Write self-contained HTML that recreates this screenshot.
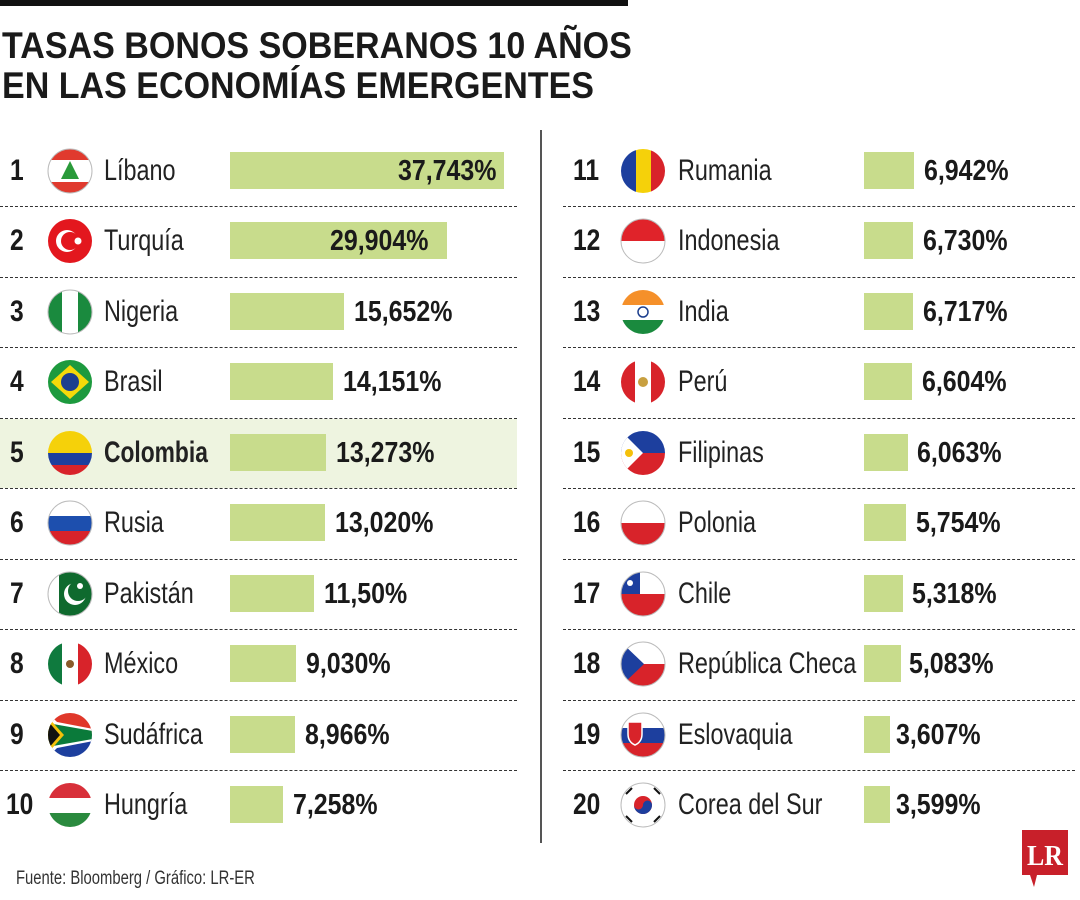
<!DOCTYPE html>
<html><head><meta charset="utf-8"><style>
body{margin:0;background:#fff;}
#c{position:relative;width:1080px;height:900px;overflow:hidden;font-family:"Liberation Sans",sans-serif;color:#1a1a1a;}
.t{position:absolute;white-space:nowrap;line-height:1;transform-origin:left center;}
.r{font-weight:bold;font-size:30px;transform:scaleX(.82);}
.n{font-size:30px;transform:scaleX(.78);color:#222;}
.v{font-weight:bold;font-size:29px;transform:scaleX(.86);}
.b{position:absolute;height:37px;background:#c8dc8c;}
.d{position:absolute;height:0;border-top:1.6px dashed #333;}
svg.f{position:absolute;width:46px;height:46px;}
</style></head><body><div id="c">
<div style="position:absolute;left:0;top:0;width:628px;height:6px;background:#111"></div>
<div class="t" style="left:2px;top:27px;font-size:37px;font-weight:bold;transform:scaleX(.92)">TASAS BONOS SOBERANOS 10 AÑOS</div>
<div class="t" style="left:2px;top:67px;font-size:37px;font-weight:bold;transform:scaleX(.92)">EN LAS ECONOMÍAS EMERGENTES</div>
<div style="position:absolute;left:540px;top:130px;width:1.5px;height:713px;background:#555"></div>
<div style="position:absolute;left:0;top:419px;width:517px;height:69px;background:#eef4e0"></div>

<svg width="0" height="0" style="position:absolute"><defs><clipPath id="cp"><circle cx="23" cy="23" r="22"/></clipPath></defs></svg>

<div class="d" style="left:0;width:517px;top:206px"></div><div class="d" style="left:0;width:517px;top:277px"></div><div class="d" style="left:0;width:517px;top:347px"></div><div class="d" style="left:0;width:517px;top:418px"></div><div class="d" style="left:0;width:517px;top:488px"></div><div class="d" style="left:0;width:517px;top:559px"></div><div class="d" style="left:0;width:517px;top:629px"></div><div class="d" style="left:0;width:517px;top:700px"></div><div class="d" style="left:0;width:517px;top:770px"></div>
<div class="d" style="left:563px;width:512px;top:206px"></div><div class="d" style="left:563px;width:512px;top:277px"></div><div class="d" style="left:563px;width:512px;top:347px"></div><div class="d" style="left:563px;width:512px;top:418px"></div><div class="d" style="left:563px;width:512px;top:488px"></div><div class="d" style="left:563px;width:512px;top:559px"></div><div class="d" style="left:563px;width:512px;top:629px"></div><div class="d" style="left:563px;width:512px;top:700px"></div><div class="d" style="left:563px;width:512px;top:770px"></div>

<div class="t r" style="left:10px;top:156px">1</div>
<svg class="f" style="left:47px;top:148px"><g clip-path="url(#cp)"><rect width="46" height="46" fill="#fff"/><rect width="46" height="12" fill="#e03a2e"/><rect y="34" width="46" height="12" fill="#e03a2e"/><polygon points="23,13 32,31 14,31" fill="#2a9a3a"/></g><circle cx="23" cy="23" r="22" fill="none" stroke="#bbb"/></svg>
<div class="t n" style="left:104px;top:156px">Líbano</div>
<div class="b" style="left:230px;top:152px;width:274px"></div>
<div class="t v" style="left:398px;top:157px">37,743%</div>

<div class="t r" style="left:10px;top:226px">2</div>
<svg class="f" style="left:47px;top:218px"><g clip-path="url(#cp)"><rect width="46" height="46" fill="#e3171e"/><circle cx="20" cy="23" r="11" fill="#fff"/><circle cx="23" cy="23" r="9" fill="#e3171e"/><circle cx="31" cy="23" r="3.5" fill="#fff"/></g></svg>
<div class="t n" style="left:104px;top:226px">Turquía</div>
<div class="b" style="left:230px;top:222px;width:217px"></div>
<div class="t v" style="left:330px;top:227px">29,904%</div>

<div class="t r" style="left:10px;top:297px">3</div>
<svg class="f" style="left:47px;top:289px"><g clip-path="url(#cp)"><rect width="46" height="46" fill="#fff"/><rect width="15" height="46" fill="#1a8a3e"/><rect x="31" width="15" height="46" fill="#1a8a3e"/></g><circle cx="23" cy="23" r="22" fill="none" stroke="#bbb"/></svg>
<div class="t n" style="left:104px;top:297px">Nigeria</div>
<div class="b" style="left:230px;top:293px;width:114px"></div>
<div class="t v" style="left:354px;top:298px">15,652%</div>

<div class="t r" style="left:10px;top:367px">4</div>
<svg class="f" style="left:47px;top:359px"><g clip-path="url(#cp)"><rect width="46" height="46" fill="#1d9a3e"/><polygon points="23,6 42,23 23,40 4,23" fill="#f5d90a"/><circle cx="23" cy="23" r="9" fill="#1d3f8e"/></g></svg>
<div class="t n" style="left:104px;top:367px">Brasil</div>
<div class="b" style="left:230px;top:363px;width:103px"></div>
<div class="t v" style="left:343px;top:368px">14,151%</div>

<div class="t r" style="left:10px;top:438px">5</div>
<svg class="f" style="left:47px;top:430px"><g clip-path="url(#cp)"><rect width="46" height="23" fill="#f5d10a"/><rect y="23" width="46" height="12" fill="#1d3f9e"/><rect y="35" width="46" height="11" fill="#d8232a"/></g></svg>
<div class="t n" style="left:104px;top:438px;font-weight:bold;transform:scaleX(.76)">Colombia</div>
<div class="b" style="left:230px;top:434px;width:96px"></div>
<div class="t v" style="left:336px;top:439px">13,273%</div>

<div class="t r" style="left:10px;top:508px">6</div>
<svg class="f" style="left:47px;top:500px"><g clip-path="url(#cp)"><rect width="46" height="16" fill="#fff"/><rect y="16" width="46" height="15" fill="#1d4fae"/><rect y="31" width="46" height="15" fill="#d8232a"/></g><circle cx="23" cy="23" r="22" fill="none" stroke="#bbb"/></svg>
<div class="t n" style="left:104px;top:508px">Rusia</div>
<div class="b" style="left:230px;top:504px;width:95px"></div>
<div class="t v" style="left:335px;top:509px">13,020%</div>

<div class="t r" style="left:10px;top:579px">7</div>
<svg class="f" style="left:47px;top:571px"><g clip-path="url(#cp)"><rect width="46" height="46" fill="#0f6a2e"/><rect width="12" height="46" fill="#fff"/><circle cx="28" cy="23" r="11" fill="#fff"/><circle cx="31" cy="20" r="10" fill="#0f6a2e"/><circle cx="33" cy="15" r="3" fill="#fff"/></g><circle cx="23" cy="23" r="22" fill="none" stroke="#bbb"/></svg>
<div class="t n" style="left:104px;top:579px">Pakistán</div>
<div class="b" style="left:230px;top:575px;width:84px"></div>
<div class="t v" style="left:324px;top:580px">11,50%</div>

<div class="t r" style="left:10px;top:649px">8</div>
<svg class="f" style="left:47px;top:641px"><g clip-path="url(#cp)"><rect width="46" height="46" fill="#fff"/><rect width="15" height="46" fill="#0f7a3e"/><rect x="31" width="15" height="46" fill="#d8232a"/><circle cx="23" cy="23" r="4" fill="#8a5a2a"/></g></svg>
<div class="t n" style="left:104px;top:649px">México</div>
<div class="b" style="left:230px;top:645px;width:66px"></div>
<div class="t v" style="left:306px;top:650px">9,030%</div>

<div class="t r" style="left:10px;top:720px">9</div>
<svg class="f" style="left:47px;top:712px"><g clip-path="url(#cp)"><rect width="46" height="23" fill="#e0382a"/><rect y="23" width="46" height="23" fill="#1d3f9e"/><polygon points="0,0 23,23 0,46" fill="#fff"/><polygon points="0,8 46,17 46,29 0,38" fill="#fff"/><polygon points="0,11 46,19 46,27 0,35" fill="#0a7a3a"/><polygon points="0,4 17,23 0,42" fill="#f5c00a"/><polygon points="0,8 13,23 0,38" fill="#111"/></g></svg>
<div class="t n" style="left:104px;top:720px">Sudáfrica</div>
<div class="b" style="left:230px;top:716px;width:65px"></div>
<div class="t v" style="left:305px;top:721px">8,966%</div>

<div class="t r" style="left:6px;top:790px">10</div>
<svg class="f" style="left:47px;top:782px"><g clip-path="url(#cp)"><rect width="46" height="16" fill="#d8303a"/><rect y="16" width="46" height="15" fill="#fff"/><rect y="31" width="46" height="15" fill="#2a8a3e"/></g></svg>
<div class="t n" style="left:104px;top:790px">Hungría</div>
<div class="b" style="left:230px;top:786px;width:53px"></div>
<div class="t v" style="left:293px;top:791px">7,258%</div>

<div class="t r" style="left:573px;top:156px">11</div>
<svg class="f" style="left:620px;top:148px"><g clip-path="url(#cp)"><rect width="16" height="46" fill="#1d3f9e"/><rect x="16" width="15" height="46" fill="#f5d10a"/><rect x="31" width="15" height="46" fill="#d8232a"/></g></svg>
<div class="t n" style="left:678px;top:156px">Rumania</div>
<div class="b" style="left:864px;top:152px;width:50px"></div>
<div class="t v" style="left:924px;top:157px">6,942%</div>

<div class="t r" style="left:573px;top:226px">12</div>
<svg class="f" style="left:620px;top:218px"><g clip-path="url(#cp)"><rect width="46" height="46" fill="#fff"/><rect width="46" height="23" fill="#e0232a"/></g><circle cx="23" cy="23" r="22" fill="none" stroke="#bbb"/></svg>
<div class="t n" style="left:678px;top:226px">Indonesia</div>
<div class="b" style="left:864px;top:222px;width:49px"></div>
<div class="t v" style="left:923px;top:227px">6,730%</div>

<div class="t r" style="left:573px;top:297px">13</div>
<svg class="f" style="left:620px;top:289px"><g clip-path="url(#cp)"><rect width="46" height="16" fill="#f5902a"/><rect y="16" width="46" height="15" fill="#fff"/><rect y="31" width="46" height="15" fill="#1a8a3e"/><circle cx="23" cy="23" r="5" fill="none" stroke="#1d3f8e" stroke-width="1.5"/></g></svg>
<div class="t n" style="left:678px;top:297px">India</div>
<div class="b" style="left:864px;top:293px;width:49px"></div>
<div class="t v" style="left:923px;top:298px">6,717%</div>

<div class="t r" style="left:573px;top:367px">14</div>
<svg class="f" style="left:620px;top:359px"><g clip-path="url(#cp)"><rect width="46" height="46" fill="#fff"/><rect width="15" height="46" fill="#d8232a"/><rect x="31" width="15" height="46" fill="#d8232a"/><circle cx="23" cy="23" r="5" fill="#c8a040"/></g></svg>
<div class="t n" style="left:678px;top:367px">Perú</div>
<div class="b" style="left:864px;top:363px;width:48px"></div>
<div class="t v" style="left:922px;top:368px">6,604%</div>

<div class="t r" style="left:573px;top:438px">15</div>
<svg class="f" style="left:620px;top:430px"><g clip-path="url(#cp)"><rect width="46" height="23" fill="#1d3f9e"/><rect y="23" width="46" height="23" fill="#d8232a"/><polygon points="0,0 23,23 0,46" fill="#fff"/><circle cx="9" cy="23" r="4" fill="#f5c00a"/></g></svg>
<div class="t n" style="left:678px;top:438px">Filipinas</div>
<div class="b" style="left:864px;top:434px;width:44px"></div>
<div class="t v" style="left:917px;top:439px">6,063%</div>

<div class="t r" style="left:573px;top:508px">16</div>
<svg class="f" style="left:620px;top:500px"><g clip-path="url(#cp)"><rect width="46" height="46" fill="#fff"/><rect y="23" width="46" height="23" fill="#d8232a"/></g><circle cx="23" cy="23" r="22" fill="none" stroke="#bbb"/></svg>
<div class="t n" style="left:678px;top:508px">Polonia</div>
<div class="b" style="left:864px;top:504px;width:42px"></div>
<div class="t v" style="left:916px;top:509px">5,754%</div>

<div class="t r" style="left:573px;top:579px">17</div>
<svg class="f" style="left:620px;top:571px"><g clip-path="url(#cp)"><rect width="46" height="46" fill="#fff"/><rect y="23" width="46" height="23" fill="#d8232a"/><rect width="20" height="23" fill="#1d3f9e"/><circle cx="10" cy="12" r="3" fill="#fff"/></g><circle cx="23" cy="23" r="22" fill="none" stroke="#bbb"/></svg>
<div class="t n" style="left:678px;top:579px">Chile</div>
<div class="b" style="left:864px;top:575px;width:39px"></div>
<div class="t v" style="left:912px;top:580px">5,318%</div>

<div class="t r" style="left:573px;top:649px">18</div>
<svg class="f" style="left:620px;top:641px"><g clip-path="url(#cp)"><rect width="46" height="46" fill="#fff"/><rect y="23" width="46" height="23" fill="#d8232a"/><polygon points="0,0 24,23 0,46" fill="#1d3f9e"/></g><circle cx="23" cy="23" r="22" fill="none" stroke="#bbb"/></svg>
<div class="t n" style="left:678px;top:649px">República Checa</div>
<div class="b" style="left:864px;top:645px;width:37px"></div>
<div class="t v" style="left:909px;top:650px">5,083%</div>

<div class="t r" style="left:573px;top:720px">19</div>
<svg class="f" style="left:620px;top:712px"><g clip-path="url(#cp)"><rect width="46" height="16" fill="#fff"/><rect y="16" width="46" height="15" fill="#1d3f9e"/><rect y="31" width="46" height="15" fill="#d8232a"/><path d="M8,10 h14 v12 q0,8 -7,11 q-7,-3 -7,-11z" fill="#d8232a" stroke="#fff" stroke-width="1.5"/></g><circle cx="23" cy="23" r="22" fill="none" stroke="#bbb"/></svg>
<div class="t n" style="left:678px;top:720px">Eslovaquia</div>
<div class="b" style="left:864px;top:716px;width:26px"></div>
<div class="t v" style="left:896px;top:721px">3,607%</div>

<div class="t r" style="left:573px;top:790px">20</div>
<svg class="f" style="left:620px;top:782px"><g clip-path="url(#cp)"><rect width="46" height="46" fill="#fff"/><circle cx="23" cy="23" r="9" fill="#d8232a"/><path d="M14,23 a9,9 0 0 0 18,0 a4.5,4.5 0 0 0 -9,0 a4.5,4.5 0 0 1 -9,0z" fill="#1d3f9e"/><g stroke="#111" stroke-width="2"><line x1="6" y1="12" x2="12" y2="6"/><line x1="34" y1="6" x2="40" y2="12"/><line x1="6" y1="34" x2="12" y2="40"/><line x1="34" y1="40" x2="40" y2="34"/></g></g><circle cx="23" cy="23" r="22" fill="none" stroke="#bbb"/></svg>
<div class="t n" style="left:678px;top:790px">Corea del Sur</div>
<div class="b" style="left:864px;top:786px;width:26px"></div>
<div class="t v" style="left:896px;top:791px">3,599%</div>

<div class="t" style="left:16px;top:869px;font-size:19px;color:#333;transform:scaleX(.78)">Fuente: Bloomberg / Gráfico: LR-ER</div>
<svg style="position:absolute;left:1022px;top:830px" width="48" height="60"><path d="M0,0 H46 V45 H15 L12,57 L8,45 H0Z" fill="#c8202a"/><text x="23" y="35" text-anchor="middle" font-family="Liberation Serif,serif" font-weight="bold" font-size="28" fill="#fff" textLength="36" lengthAdjust="spacingAndGlyphs">LR</text></svg>
</div></body></html>
